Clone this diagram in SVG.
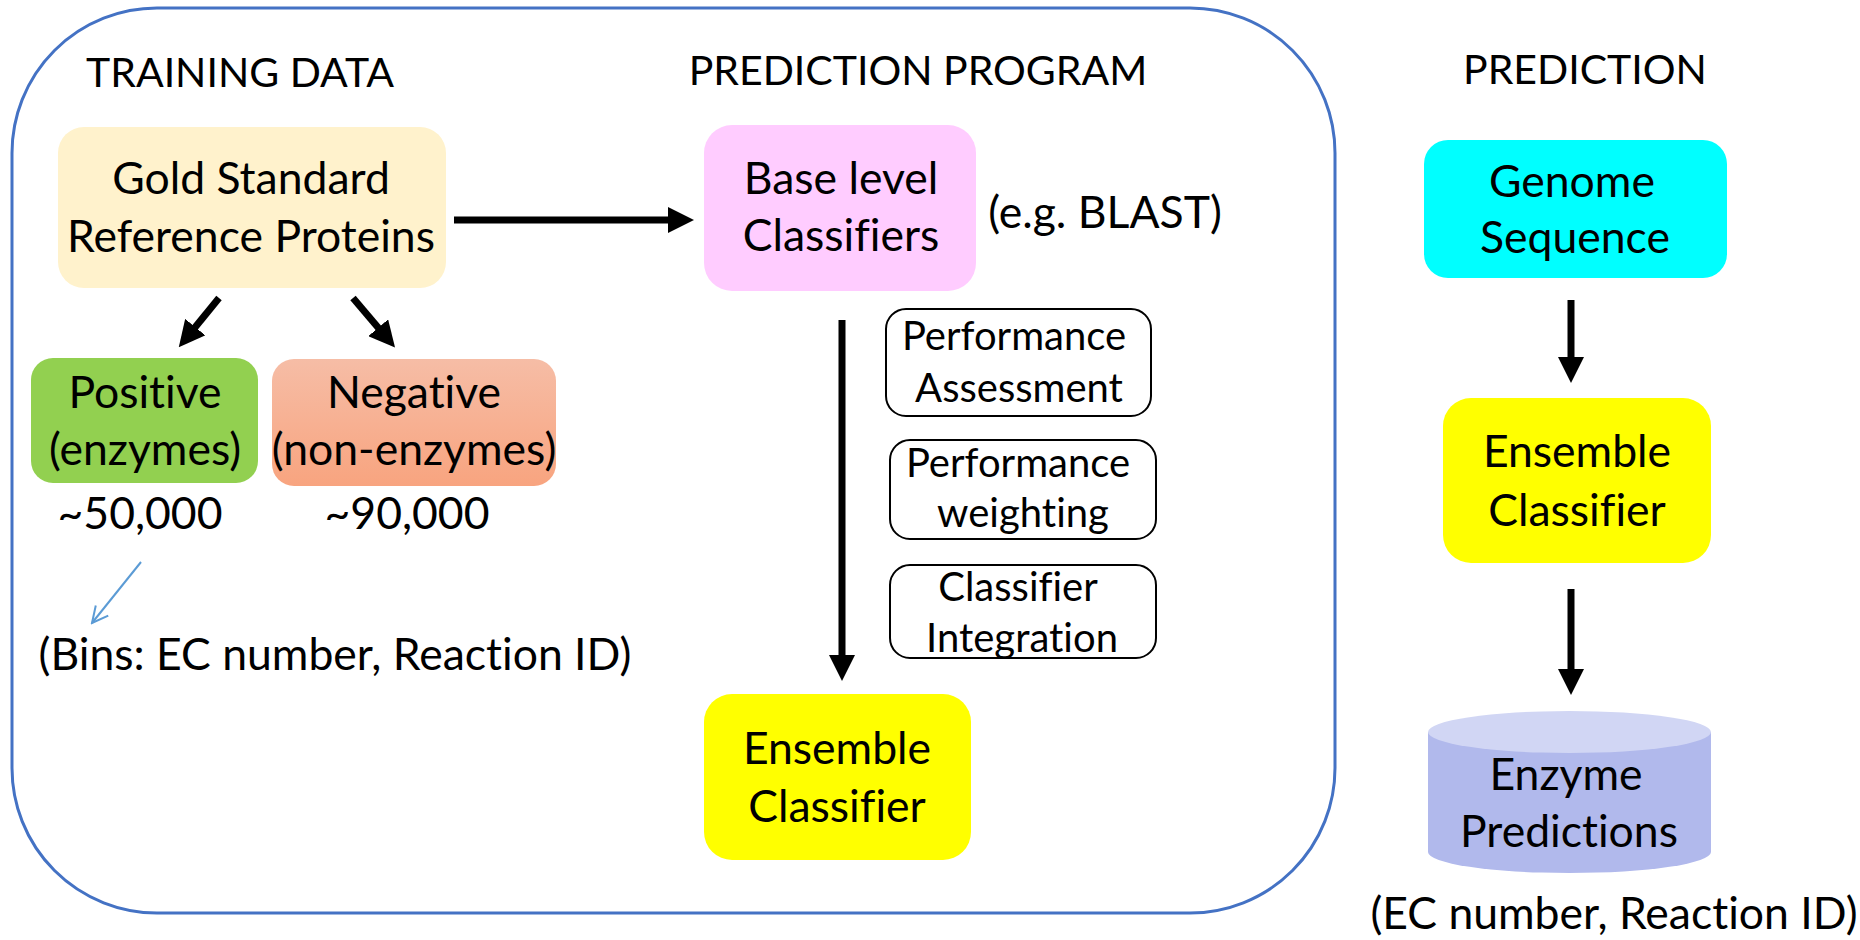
<svg xmlns="http://www.w3.org/2000/svg" width="1860" height="940" viewBox="0 0 1860 940">
<style>
text{font-family:Lato,"Open Sans","Liberation Sans",sans-serif;fill:#000;text-anchor:middle;font-variant-ligatures:none}
.t{font-size:41px}
.b{font-size:44.5px}
.s{font-size:40px}
.ol{fill:#fff;stroke:#000;stroke-width:2}
.arr{stroke:#000;stroke-width:7;fill:none}
.blue{stroke:#5B9BD5;stroke-width:2;fill:none}
</style>
<defs>
<marker id="ah" markerUnits="userSpaceOnUse" markerWidth="26" markerHeight="26" viewBox="0 0 26 26" refX="4" refY="13" orient="auto">
<path d="M0,0 L26,13 L0,26 z" fill="#000"/>
</marker>
<marker id="bh" markerUnits="userSpaceOnUse" markerWidth="20" markerHeight="20" viewBox="0 0 20 20" refX="18" refY="10" orient="auto">
<path d="M2,2 L18,10 L2,18" fill="none" stroke="#5B9BD5" stroke-width="2"/>
</marker>
<linearGradient id="neg" x1="0" y1="0" x2="0" y2="1">
<stop offset="0" stop-color="#F6BDA6"/>
<stop offset="1" stop-color="#F8A47F"/>
</linearGradient>
</defs>
<rect id="frame" x="12" y="8" width="1323" height="905" rx="145" ry="145" fill="none" stroke="#4472C4" stroke-width="3"/>
<g id="titles">
<text class="t" x="240" y="87">TRAINING DATA</text>
<text class="t" x="918" y="85">PREDICTION PROGRAM</text>
<text class="t" x="1585" y="84">PREDICTION</text>
</g>
<g id="gold">
<rect x="58" y="127" width="388" height="161" rx="26" fill="#FFF2CC"/>
<text class="b" x="251" y="194">Gold Standard</text>
<text class="b" x="251" y="252">Reference Proteins</text>
</g>
<g id="positive">
<rect x="31" y="358" width="227" height="125" rx="22" fill="#92D050"/>
<text class="b" x="145" y="408">Positive</text>
<text class="b" x="145" y="465">(enzymes)</text>
</g>
<g id="negative">
<rect x="272" y="359" width="284" height="127" rx="22" fill="url(#neg)"/>
<text class="b" x="414" y="408">Negative</text>
<text class="b" x="414" y="465">(non-enzymes)</text>
</g>
<g id="counts">
<text class="b" x="140" y="529">~50,000</text>
<text class="b" x="407" y="529">~90,000</text>
</g>
<g id="bins">
<text class="b" x="335" y="670">(Bins: EC number, Reaction ID)</text>
</g>
<g id="base">
<rect x="704" y="125" width="272" height="166" rx="28" fill="#FFCCFF"/>
<text class="b" x="841" y="194">Base level</text>
<text class="b" x="841" y="251">Classifiers</text>
</g>
<g id="blast">
<text class="b" x="1105" y="228">(e.g. BLAST)</text>
</g>
<g id="perf-assess">
<rect class="ol" x="886" y="309" width="265" height="107" rx="20"/>
<text class="s" x="1014" y="350">Performance</text>
<text class="s" x="1019" y="402">Assessment</text>
</g>
<g id="perf-weight">
<rect class="ol" x="890" y="440" width="266" height="99" rx="20"/>
<text class="s" x="1018" y="477">Performance</text>
<text class="s" x="1023" y="527">weighting</text>
</g>
<g id="integration">
<rect class="ol" x="890" y="565" width="266" height="93" rx="20"/>
<text class="s" x="1018" y="601">Classifier</text>
<text class="s" x="1022" y="652">Integration</text>
</g>
<g id="ensemble-mid">
<rect x="704" y="694" width="267" height="166" rx="28" fill="#FFFF00"/>
<text class="b" x="837" y="764">Ensemble</text>
<text class="b" x="837" y="822">Classifier</text>
</g>
<g id="genome">
<rect x="1424" y="140" width="303" height="138" rx="24" fill="#00FFFF"/>
<text class="b" x="1572" y="197">Genome</text>
<text class="b" x="1575" y="253">Sequence</text>
</g>
<g id="ensemble-right">
<rect x="1443" y="398" width="268" height="165" rx="28" fill="#FFFF00"/>
<text class="b" x="1577" y="467">Ensemble</text>
<text class="b" x="1577" y="526">Classifier</text>
</g>
<g id="predictions">
<path d="M1428,732 L1428,852 A141.5,21 0 0 0 1711,852 L1711,732 z" fill="#B1B9EC"/>
<ellipse cx="1569.5" cy="732" rx="141.5" ry="21" fill="#D1D6F4"/>
<text class="b" x="1566" y="790">Enzyme</text>
<text class="b" x="1569" y="847">Predictions</text>
</g>
<g id="ec-label">
<text class="b" x="1614" y="929">(EC number, Reaction ID)</text>
</g>
<g id="connectors">
<line class="arr" x1="454" y1="220" x2="672" y2="220" marker-end="url(#ah)"/>
<line class="arr" x1="219" y1="298" x2="192.7" y2="330.2" marker-end="url(#ah)"/>
<line class="arr" x1="353" y1="298" x2="380.8" y2="330.8" marker-end="url(#ah)"/>
<line class="arr" x1="842" y1="320" x2="842" y2="659" marker-end="url(#ah)"/>
<line class="arr" x1="1571" y1="300" x2="1571" y2="361" marker-end="url(#ah)"/>
<line class="arr" x1="1571" y1="589" x2="1571" y2="673" marker-end="url(#ah)"/>
<line class="blue" x1="141" y1="562" x2="92" y2="623" marker-end="url(#bh)"/>
</g>
</svg>
